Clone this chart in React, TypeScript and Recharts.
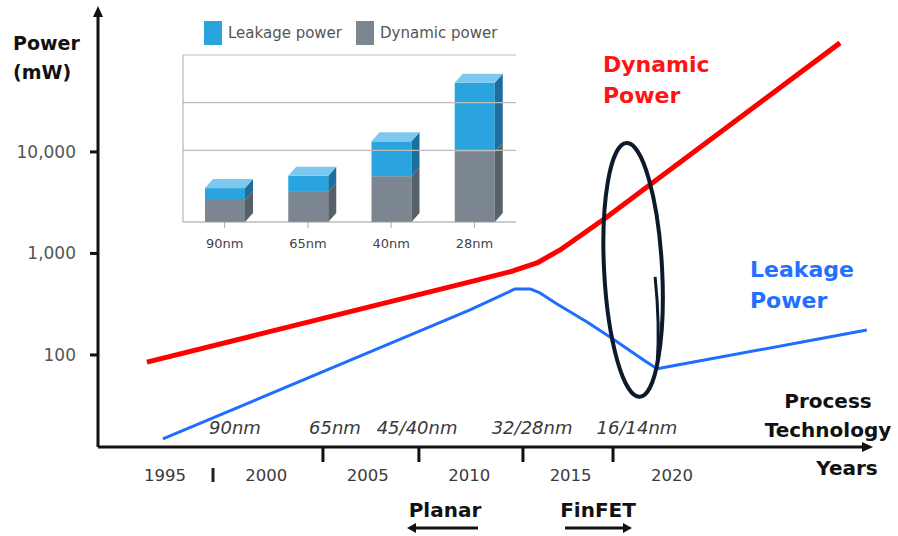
import React from "react";
import {
  Bar,
  BarChart,
  Legend,
  Line,
  LineChart,
  ReferenceDot,
  ReferenceLine,
  XAxis,
  YAxis,
} from "recharts";

// Main chart: power (mW, log scale) against year
const dynamicYears = [1994.11, 2010.04, 2012.16, 2013.34, 2014.48, 2016.79, 2019.06, 2028.28];
const dynamicPower = [85, 524, 672, 806, 1083, 2289, 4995, 118600];
const leakageYears = [1994.9, 2010.04, 2012.26, 2013.0, 2013.49, 2014.33, 2015.81, 2016.94, 2018.67, 2019.26, 2029.6];
const leakagePower = [14.9, 278, 447, 447, 408, 318, 211, 150, 87, 73, 176];

const powerTicks = [100, 1000, 10000];
const yearTicks = [1995, 2000, 2005, 2010, 2015, 2020];
const nodeNames = ["90nm", "65nm", "45/40nm", "32/28nm", "16/14nm"];
const nodeLabelYears = [1998.45, 2003.38, 2007.43, 2013.1, 2018.27];
const nodeTickYears = [2002.79, 2007.52, 2012.65, 2017.09];
const markerYear = 1997.37;

// FinFET transition callout (ellipse centre)
const calloutYear = 2018.08;
const calloutPower = 688;

// Inset: stacked bars per node
const insetNodes = ["90nm", "65nm", "40nm", "28nm"];
const insetDynamic = [4.6, 6.3, 9.6, 14.7];
const insetLeakage = [2.5, 3.4, 7.3, 14.5];
const insetGrid = [15, 25, 35];
const legendNames = ["Leakage power", "Dynamic power"];

const X_DOMAIN: [number, number] = [1991.7, 2029.66];
const Y_DOMAIN: [number, number] = [12.4, 250000];

const FONT = "'DejaVu Sans', Verdana, sans-serif";
const AXIS = "#111";
const RED = "#ff0000";
const BLUE = "#1f6dff";

const LEAK_FRONT = "#2aa4df";
const LEAK_SIDE = "#1c6f9d";
const LEAK_TOP = "#7ec7ee";
const DYN_FRONT = "#7b8690";
const DYN_SIDE = "#575f67";
const DX = 8;
const DY = 9;

const dynamicData = dynamicYears.map((year, i) => ({ year, power: dynamicPower[i] }));
const leakageData = leakageYears.map((year, i) => ({ year, power: leakagePower[i] }));
const insetData = insetNodes.map((node, i) => ({
  node,
  dynamic: insetDynamic[i],
  leakage: insetLeakage[i],
}));
const allTicks = [...yearTicks, ...nodeLabelYears, ...nodeTickYears, markerYear];

function TimeTick(props: any) {
  const { x, y, payload } = props;
  const v = payload.value;
  if (yearTicks.includes(v)) {
    return (
      <text x={x} y={y + 34} textAnchor="middle" fontFamily={FONT} fontSize={16.5} fill="#3a3a3a">
        {v}
      </text>
    );
  }
  const ni = nodeLabelYears.indexOf(v);
  if (ni >= 0) {
    return (
      <text x={x} y={y - 13} textAnchor="middle" fontFamily={FONT} fontStyle="italic" fontSize={18} fill="#3a3a3a">
        {nodeNames[ni]}
      </text>
    );
  }
  if (nodeTickYears.includes(v)) {
    return <line x1={x} x2={x} y1={y} y2={y + 15} stroke={AXIS} strokeWidth={3} />;
  }
  if (v === markerYear) {
    return <line x1={x} x2={x} y1={y + 21} y2={y + 35} stroke="#222" strokeWidth={3} />;
  }
  return <g />;
}

const upArrow = (p: any) => (
  <path d={`M${p.cx},${p.cy - 4} L${p.cx - 5},${p.cy + 7} L${p.cx + 5},${p.cy + 7} Z`} fill={AXIS} />
);
const rightArrow = (p: any) => (
  <path d={`M${p.cx + 5},${p.cy} L${p.cx - 6},${p.cy - 5} L${p.cx - 6},${p.cy + 5} Z`} fill={AXIS} />
);
const callout = (p: any) => (
  <g fill="none" stroke="#0d1a2b">
    <ellipse cx={p.cx} cy={p.cy} rx={29} ry={127} strokeWidth={4} transform={`rotate(-3 ${p.cx} ${p.cy})`} />
    <path d={`M${p.cx + 22},${p.cy + 7} Q${p.cx + 27},${p.cy + 55} ${p.cx + 24},${p.cy + 95}`} strokeWidth={3} />
  </g>
);

function DynamicBar(props: any) {
  const { x, y, width: w, height: h } = props;
  return (
    <g>
      <rect x={x} y={y} width={w} height={h} fill={DYN_FRONT} />
      <path d={`M${x + w},${y} L${x + w + DX},${y - DY} L${x + w + DX},${y + h - DY} L${x + w},${y + h} Z`} fill={DYN_SIDE} />
    </g>
  );
}

function LeakageBar(props: any) {
  const { x, y, width: w, height: h } = props;
  return (
    <g>
      <rect x={x} y={y} width={w} height={h} fill={LEAK_FRONT} />
      <path d={`M${x + w},${y} L${x + w + DX},${y - DY} L${x + w + DX},${y + h - DY} L${x + w},${y + h} Z`} fill={LEAK_SIDE} />
      <path d={`M${x},${y} L${x + DX},${y - DY} L${x + w + DX},${y - DY} L${x + w},${y} Z`} fill={LEAK_TOP} />
    </g>
  );
}

function InsetLegend() {
  const colors = [LEAK_FRONT, DYN_FRONT];
  return (
    <div
      style={{
        boxSizing: "border-box",
        height: 37,
        display: "flex",
        paddingLeft: 22,
        paddingTop: 3,
        fontFamily: FONT,
        fontSize: 15,
        color: "#555",
      }}
    >
      {legendNames.map((n, i) => (
        <div key={n} style={{ display: "flex", alignItems: "center", height: 24, marginRight: 14 }}>
          <span style={{ width: 18, height: 24, background: colors[i], marginRight: 6 }} />
          {n}
        </div>
      ))}
    </div>
  );
}

export default function App() {
  const bold = { fontFamily: FONT, fontWeight: 700 } as const;
  return (
    <div style={{ position: "absolute", left: 0, top: 0, width: 898, height: 536, background: "#fff" }}>
      <LineChart width={898} height={536} margin={{ top: 10, right: 30, bottom: 0, left: 0 }}>
        <XAxis
          type="number"
          dataKey="year"
          domain={X_DOMAIN}
          allowDataOverflow
          ticks={allTicks}
          interval={0}
          tick={<TimeTick />}
          tickLine={false}
          tickSize={0}
          tickMargin={0}
          height={89}
          axisLine={{ stroke: AXIS, strokeWidth: 3 }}
        />
        <YAxis
          type="number"
          scale="log"
          domain={Y_DOMAIN}
          allowDataOverflow
          ticks={powerTicks}
          interval={0}
          width={98}
          tickSize={8}
          tickMargin={14}
          tickFormatter={(v: number) => v.toLocaleString("en-US")}
          tick={{ fontFamily: FONT, fontSize: 17, fill: "#555" }}
          tickLine={{ stroke: AXIS, strokeWidth: 3 }}
          axisLine={{ stroke: AXIS, strokeWidth: 3 }}
        />
        <Line
          data={dynamicData}
          dataKey="power"
          type="linear"
          stroke={RED}
          strokeWidth={5}
          strokeLinejoin="round"
          dot={false}
          isAnimationActive={false}
        />
        <Line
          data={leakageData}
          dataKey="power"
          type="linear"
          stroke={BLUE}
          strokeWidth={3}
          strokeLinejoin="round"
          dot={false}
          isAnimationActive={false}
        />
        <ReferenceDot x={calloutYear} y={calloutPower} ifOverflow="visible" shape={callout} />
        <ReferenceDot x={X_DOMAIN[0]} y={Y_DOMAIN[1]} ifOverflow="visible" shape={upArrow} />
        <ReferenceDot x={X_DOMAIN[1]} y={Y_DOMAIN[0]} ifOverflow="visible" shape={rightArrow} />
      </LineChart>

      <svg width={898} height={536} style={{ position: "absolute", left: 0, top: 0, pointerEvents: "none" }}>
        <text x={13} y={50} fontSize={19} fill="#111" {...bold}>Power</text>
        <text x={13} y={79} fontSize={19} fill="#111" {...bold}>(mW)</text>
        <text x={603} y={72} fontSize={22} fill="#ff1414" {...bold}>Dynamic</text>
        <text x={603} y={103} fontSize={22} fill="#ff1414" {...bold}>Power</text>
        <text x={750} y={277} fontSize={22} fill="#2370ff" {...bold}>Leakage</text>
        <text x={750} y={308} fontSize={22} fill="#2370ff" {...bold}>Power</text>
        <text x={828} y={408} fontSize={20} fill="#111" textAnchor="middle" {...bold}>Process</text>
        <text x={828} y={437} fontSize={20} fill="#111" textAnchor="middle" {...bold}>Technology</text>
        <text x={847} y={475} fontSize={20} fill="#111" textAnchor="middle" {...bold}>Years</text>
        <text x={445} y={517} fontSize={20} fill="#111" textAnchor="middle" {...bold}>Planar</text>
        <line x1={413} x2={478} y1={528} y2={528} stroke="#111" strokeWidth={3} />
        <path d="M407,528 L416,523 L416,533 Z" fill="#111" />
        <text x={598} y={517} fontSize={20} fill="#111" textAnchor="middle" {...bold}>FinFET</text>
        <line x1={565} x2={626} y1={528} y2={528} stroke="#111" strokeWidth={3} />
        <path d="M632,528 L623,523 L623,533 Z" fill="#111" />
      </svg>

      <div style={{ position: "absolute", left: 170, top: 10 }}>
        <BarChart width={360} height={255} data={insetData} margin={{ top: 8, right: 14, bottom: 0, left: 12 }} barSize={40}>
          <Legend verticalAlign="top" align="left" content={<InsetLegend />} />
          <XAxis
            dataKey="node"
            height={43}
            tickSize={6}
            tickMargin={11}
            tick={{ fontFamily: FONT, fontSize: 13, fill: "#444" }}
            tickLine={{ stroke: "#aaa" }}
            axisLine={{ stroke: "#999" }}
          />
          <YAxis
            width={1}
            domain={[0, 35]}
            ticks={insetGrid}
            interval={0}
            tick={false}
            tickLine={false}
            axisLine={{ stroke: "#aaa" }}
          />
          {insetGrid.map((g) => (
            <ReferenceLine key={g} y={g} stroke="#bdbdbd" strokeWidth={1.2} ifOverflow="visible" />
          ))}
          <Bar dataKey="dynamic" stackId="p" fill={DYN_FRONT} shape={<DynamicBar />} isAnimationActive={false} />
          <Bar dataKey="leakage" stackId="p" fill={LEAK_FRONT} shape={<LeakageBar />} isAnimationActive={false} />
        </BarChart>
      </div>
    </div>
  );
}
